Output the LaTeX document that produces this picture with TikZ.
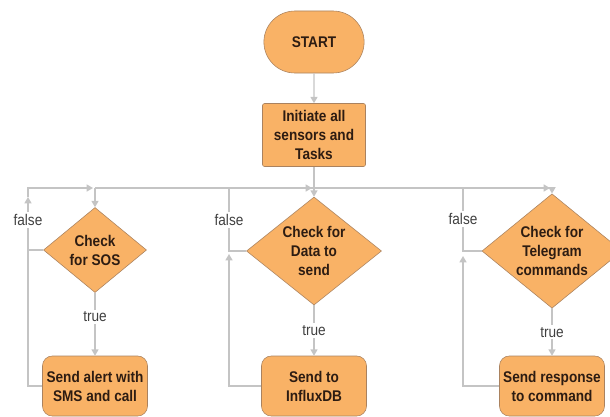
\documentclass[tikz,border=0pt]{standalone}
\usepackage{fontspec}
\setmainfont{Liberation Sans}[FakeStretch=0.88]
\usepackage{xcolor}
\usepackage{tikz}
\usetikzlibrary{arrows.meta,positioning,shapes.geometric,shapes.misc}
\definecolor{boxfill}{RGB}{249,178,102}
\definecolor{boxline}{RGB}{170,130,95}
\definecolor{linegray}{RGB}{196,196,196}
\definecolor{boxtext}{RGB}{45,28,18}

\begin{document}
\begin{tikzpicture}[x=0.025cm,y=-0.025cm,
    block/.style={draw=boxline,fill=boxfill,text=boxtext,align=center,inner sep=1pt,
        font=\bfseries\fontsize{11}{13.5}\selectfont},
    startbox/.style={block,rounded rectangle,minimum width=2.575cm,minimum height=1.55cm},
    check/.style={block,diamond,aspect=1.2},
    action/.style={block,rounded corners=7pt,minimum width=2.625cm,minimum height=1.5cm},
    link/.style={draw=linegray,line width=0.9pt},
    tip/.style={-{Triangle[width=5pt,length=4.5pt]}},
    lbl/.style={fill=white,text=black!75,inner sep=1.5pt,font=\fontsize{11}{13}\selectfont}]
    \useasboundingbox (0,0) rectangle (610,416);
    % Start and initialisation
    \node[startbox] (start) at (314,42) {START};
    \node[block,rounded corners=1.5pt,minimum width=2.575cm,minimum height=1.575cm] (init) at (314,135) {Initiate all\\sensors and\\Tasks};
    % Checks
    \node[check,minimum width=2.575cm,minimum height=2.125cm] (sos) at (95,250) {Check\\for SOS};
    \node[check,minimum width=3.375cm,minimum height=2.7cm] (data) at (314,251) {Check for\\Data to\\send};
    \node[check,minimum width=3.5cm,minimum height=2.825cm] (tele) at (552,251) {Check for\\Telegram\\commands};
    % Actions
    \node[action] (alert) at (95,386) {Send alert with\\SMS and call};
    \node[action] (influx) at (314,386) {Send to\\InfluxDB};
    \node[action] (reply) at (552,386) {Send response\\to command};
    % Bus
    \coordinate (bus) at (314,188);
    \coordinate (busL) at (95,188);
    \coordinate (busR) at (552,188);
    \draw[link,tip] (start) -- (init);
    \draw[link] (init) -- (bus);
    \draw[link] (busL) -- (busR);
    \draw[link,tip] (busL) -- (sos);
    \draw[link,tip] (bus) -- (data);
    \draw[link,tip] (busR) -- (tele);
    % True branches
    \draw[link,tip] (sos) -- node[lbl,pos=0.38] (t1) {true} (alert);
    \draw[link,tip] (data) -- node[lbl] (t2) {true} (influx);
    \draw[link,tip] (tele) -- node[lbl] (t3) {true} (reply);
    % False loop (SOS)
    \coordinate (sosL) at (28,250);
    \coordinate (sosUp) at (28,197);
    \coordinate (sosTop) at (28,188);
    \coordinate (sosIn) at (93,188);
    \draw[link,tip] (sos.west) -- (sosL) -- (sosUp);
    \draw[link,tip] (sosUp) -- (sosTop) -- (sosIn);
    \draw[link] (alert.west) -| (sosL);
    % False loop (Data)
    \coordinate (dataL) at (229,251);
    \coordinate (dataTop) at (229,188);
    \coordinate (dataIn) at (312,188);
    \coordinate (dataUp) at (229,254);
    \draw[link,tip] (data.west) -- (dataL) -- (dataTop) -- (dataIn);
    \draw[link,tip] (influx.west) -| (dataUp);
    % False loop (Telegram)
    \coordinate (teleL) at (463,251);
    \coordinate (teleTop) at (463,188);
    \coordinate (teleIn) at (550,188);
    \coordinate (teleUp) at (463,256);
    \draw[link,tip] (tele.west) -- (teleL) -- (teleTop) -- (teleIn);
    \draw[link,tip] (reply.west) -| (teleUp);
    % Labels
    \node[lbl] (f1) at (28,220) {false};
    \node[lbl] (f2) at (229,220) {false};
    \node[lbl] (f3) at (463,219) {false};
\end{tikzpicture}
\end{document}
